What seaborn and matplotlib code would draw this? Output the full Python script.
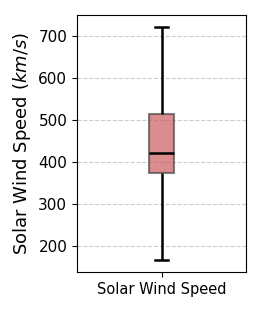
import numpy as np
import pandas as pd
import matplotlib
matplotlib.use("Agg")
import matplotlib.pyplot as plt
import seaborn as sns

# five-number summary (whiskers go to min/max)
label = "Solar Wind Speed"
speed_values = [166, 373, 422, 514, 721]

df = pd.DataFrame({"variable": [label] * len(speed_values), "speed": speed_values})

fig, ax = plt.subplots(figsize=(2.62, 3.14), dpi=100)
fig.subplots_adjust(left=0.294, right=0.939, bottom=0.134, top=0.952)

sns.boxplot(data=df, x="variable", y="speed", ax=ax, whis=(0, 100), width=0.15,
            boxprops=dict(facecolor=(0.80, 0.36, 0.37, 0.7), edgecolor=(0.25, 0.25, 0.25, 0.65), linewidth=1.5),
            whiskerprops=dict(color="black", linewidth=1.8),
            capprops=dict(color="black", linewidth=1.8),
            medianprops=dict(color="black", linewidth=1.8))

ax.yaxis.grid(True, linestyle="--", color="silver", alpha=0.8)
ax.set_axisbelow(True)
ax.set_xlabel("")
ax.set_ylabel("Solar Wind Speed ($km/s$)", fontsize=13)
ax.tick_params(axis="y", labelsize=11)
ax.tick_params(axis="x", labelsize=10.5)

fig.savefig("out.png", dpi=100)
